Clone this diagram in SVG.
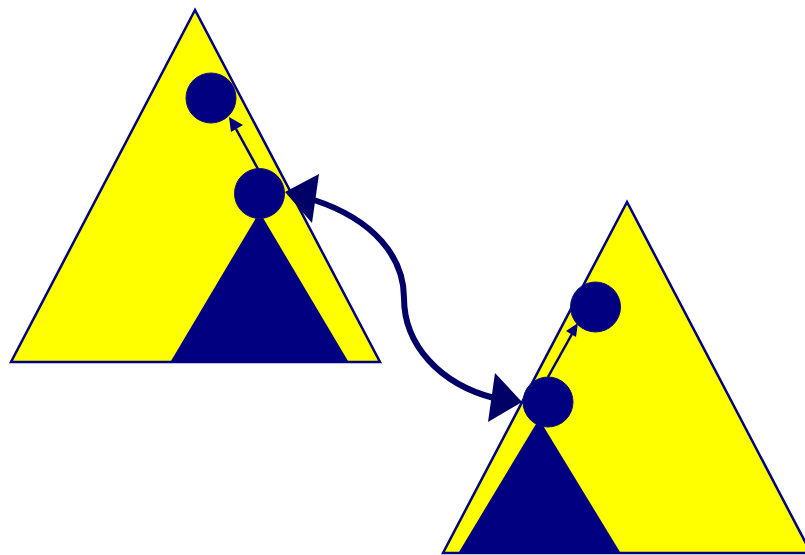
<svg xmlns="http://www.w3.org/2000/svg" width="805" height="555" viewBox="0 0 805 555">
<style>
.tree{fill:#ffff00;stroke:#000080;stroke-width:2.5;stroke-linejoin:miter}
.sub{fill:#000080;stroke:none}
.node{fill:#000080;stroke:#10107a;stroke-width:1}
.link{fill:none;stroke:#000080;stroke-width:2.5}
.head{fill:#000080;stroke:none}
.swap{fill:none;stroke:#000066;stroke-width:6}
.bighead{fill:#000066;stroke:none}
</style>
<rect width="805" height="555" fill="#ffffff"/>
<g id="tree-left">
<polygon class="tree" points="195,10 11,362 380,362"/>
<polygon class="sub" points="259.5,212 171,361 348,361"/>
<circle id="node-left-top" class="node" cx="211" cy="98" r="25"/>
<circle id="node-left-bottom" class="node" cx="259.5" cy="193.5" r="25"/>
</g>
<g id="tree-right">
<polygon class="tree" points="627,202 443,553 811,553"/>
<polygon class="sub" points="539,419 459,552 620,552"/>
<circle id="node-right-top" class="node" cx="595.5" cy="307" r="25"/>
<circle id="node-right-bottom" class="node" cx="548" cy="402" r="25"/>
</g>
<g id="connectors">
<line class="link" x1="258" y1="169" x2="236" y2="129"/>
<polygon class="head" points="229,117 231,132 243,125"/>
<line class="link" x1="548" y1="377" x2="572" y2="334"/>
<polygon class="head" points="578,323 566,331 576,337"/>
<path class="swap" d="M314,200 C375,220 404,258 404,298 C404,345 440,384 494,398"/>
<polygon class="bighead" points="285,192 319,174 312,223"/>
<polygon class="bighead" points="522,402 495,373 488,422"/>
</g>
</svg>
